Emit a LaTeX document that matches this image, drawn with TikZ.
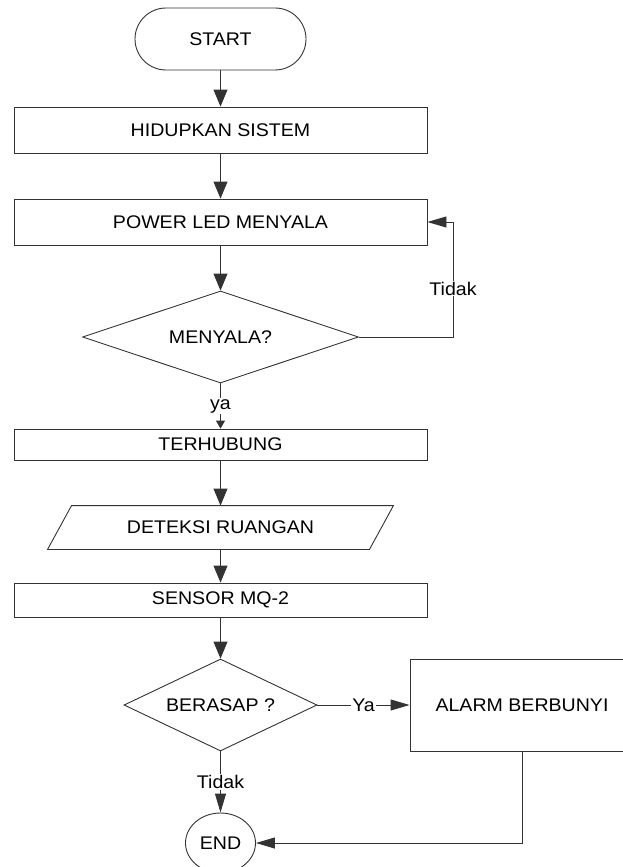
\documentclass[tikz,border=0pt]{standalone}
\usepackage{fontspec}
\setmainfont{Liberation Sans}[FakeStretch=1.07]
\usetikzlibrary{shapes.geometric,arrows.meta}
\definecolor{ln}{gray}{0.2}
\begin{document}
\begin{tikzpicture}[x=1pt,y=-1pt,font=\fontsize{18.3}{21}\selectfont,line width=0.9pt,
  box/.style={draw=ln,rectangle,minimum width=413pt,inner sep=0pt},
  term/.style={draw=ln,rectangle,rounded corners=31pt,minimum width=171pt,minimum height=62pt,inner sep=0pt},
  dec/.style={draw=ln,diamond,aspect=3,minimum height=92pt,inner sep=0pt},
  arr/.style={draw=ln,-{Triangle[length=17pt,width=14pt]}},
  arrlong/.style={draw=ln,-{Triangle[length=19pt,width=11pt]}},
  arrsmall/.style={draw=ln,-{Triangle[length=8pt,width=9pt]}},
  lbl/.style={fill=white,inner sep=1pt}]
\useasboundingbox (0,0) rectangle (622,867);
\node[term] (start) at (220.5,39) {START};
\node[box,minimum height=46pt] (hid) at (220.5,130) {HIDUPKAN SISTEM};
\node[box,minimum height=46pt] (pow) at (220.5,222) {POWER LED MENYALA};
\node[dec,minimum width=276pt] (d1) at (220.5,337) {MENYALA?};
\node[box,minimum height=31pt] (ter) at (220.5,444.5) {TERHUBUNG};
\node[rectangle,minimum width=345pt,minimum height=43pt,inner sep=0pt] (para) at (220.5,527.5) {DETEKSI RUANGAN};
\draw[ln] (para.south west) -- ([xshift=-24pt]para.south east) -- (para.north east) -- ([xshift=24pt]para.north west) -- cycle;
\node[box,minimum height=34pt] (sen) at (220.5,600) {SENSOR MQ-2};
\node[dec,minimum width=193pt] (d2) at (220.5,705) {BERASAP ?};
\node[draw=ln,rectangle,minimum width=224pt,minimum height=92pt,inner sep=0pt] (alarm) at (522,705) {ALARM BERBUNYI};
\node[draw=ln,ellipse,minimum width=70pt,minimum height=60pt,inner sep=0pt] (end) at (220.5,843) {END};
\coordinate (loop) at (453,337);
\draw[arr] (start) -- (hid);
\draw[arr] (hid) -- (pow);
\draw[arr] (pow) -- (d1);
\draw[arrsmall] (d1) -- node[lbl]{ya} (ter);
\draw[arrlong] (d1.east) -- (loop) |- node[lbl,pos=0.21]{Tidak} (pow.east);
\draw[arr] (ter) -- (para);
\draw[arr] (para) -- (sen);
\draw[arr] (sen) -- (d2);
\draw[arrlong] (d2.east) -- node[lbl]{Ya} (alarm.west);
\draw[arrlong] (d2.south) -- node[lbl]{Tidak} (end.north);
\draw[arrlong] (alarm.south) |- (end.east);
\end{tikzpicture}
\end{document}
